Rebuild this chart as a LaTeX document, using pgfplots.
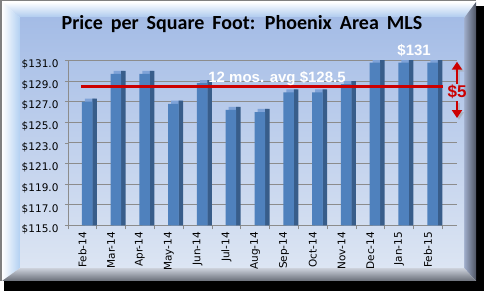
\documentclass[border=0pt]{standalone}
\usepackage{pgfplots}
\pgfplotsset{compat=1.18}
\usepackage{pgfplotstable}
\usepackage{fontspec}
\setmainfont{DejaVu Sans}
\newfontfamily\carlito{Carlito}
\newfontfamily\libsans{Liberation Sans}
\usetikzlibrary{arrows.meta}
\definecolor{barfront}{HTML}{4F81BD}
\definecolor{barside}{HTML}{385D8A}
\definecolor{bartop}{HTML}{7FA3D8}
\definecolor{avgred}{HTML}{CC0000}
\definecolor{gridgray}{HTML}{8C8C8C}
\pgfplotstableread{
x v
0 127.0
1 129.7
2 129.7
3 126.8
4 128.8
5 126.2
6 126.0
7 127.9
8 127.9
9 128.7
10 130.8
11 130.8
12 130.8
}\pricedata
\begin{document}
\begin{tikzpicture}[x=1pt,y=1pt]
\useasboundingbox (0,0) rectangle (484,291);
% black drop shadow
\fill[black] (4,0) rectangle (484,285);
% outer frame
\fill[white] (0,10) rectangle (476,291);
\draw[gray,line width=1.5pt] (0.75,10)--(0.75,290.25)--(476,290.25);
% bevels
\shade[top color=white,bottom color={rgb,255:red,170;green,200;blue,238}] (2,289)--(476,289)--(464,273)--(20,273)--cycle;
\shade[left color=white,right color={rgb,255:red,178;green,208;blue,242}] (2,289)--(20,273)--(20,23)--(2,10)--cycle;
\shade[left color={rgb,255:red,160;green,174;blue,204},right color={rgb,255:red,80;green,86;blue,100}] (476,289)--(476,10)--(464,23)--(464,273)--cycle;
\shade[top color={rgb,255:red,205;green,210;blue,220},bottom color={rgb,255:red,105;green,110;blue,120}] (2,10)--(476,10)--(464,23)--(20,23)--cycle;
% inner panel
\shade[top color={rgb,255:red,164;green,188;blue,230},bottom color={rgb,255:red,220;green,229;blue,243}] (20,23) rectangle (464,273);
% title
\node[font=\carlito\bfseries\fontsize{20}{24}\selectfont] at (242,267) {\spaceskip=8pt Price per Square Foot: Phoenix Area MLS};
\begin{axis}[
  at={(68pt,65.5pt)}, anchor=south west, scale only axis,
  width=389pt, height=165pt,
  xmin=-0.66, xmax=12.85, ymin=115, ymax=131,
  clip mode=individual,
  axis x line*=bottom, axis y line*=left,
  axis line style={gridgray, line width=0.8pt},
  every tick/.style={gridgray, line width=0.8pt},
  tick align=outside,
  ytick={115,117,...,131},
  yticklabel={\$\pgfmathprintnumber[fixed,fixed zerofill,precision=1]{\tick}},
  /pgf/number format/assume math mode=true,
  tick label style={font=\fontsize{10.5}{12}\selectfont, black},
  yticklabel style={xshift=-3pt, yshift=-4pt},
  major tick length=3pt,
  ymajorgrids, major grid style={gridgray, line width=1pt},
  xtick={-0.16,0.84,...,11.84},
  x tick style={draw=none},
  xticklabels={Feb-14,Mar-14,Apr-14,May-14,Jun-14,Jul-14,Aug-14,Sep-14,Oct-14,Nov-14,Dec-14,Jan-15,Feb-15},
  x tick label style={rotate=90, anchor=east},
  extra x ticks={-0.66,0.34,1.34,2.34,3.34,4.34,5.34,6.34,7.34,8.34,9.34,10.34,11.34,12.34},
  extra x tick labels={},
  extra x tick style={x tick style={draw=gridgray}, major tick length=4pt, grid=none},
]
\addplot[ybar, bar width=10.5pt, bar shift=3pt, fill=bartop, draw=none] table[x=x, y expr=\thisrow{v}+0.3] {\pricedata};
\addplot[ybar, bar width=4.5pt, bar shift=7.5pt, fill=barside, draw=none] table[x=x, y expr=\thisrow{v}+0.3] {\pricedata};
\addplot[ybar, bar width=10.5pt, bar shift=0pt, fill=barfront, draw=none] table[x=x, y=v] {\pricedata};
\addplot[avgred, line width=3pt] coordinates {(-0.21,128.5) (12.37,128.5)};
\node[white, font=\libsans\bfseries\fontsize{15}{17}\selectfont] at (axis cs:6.6,129.3) {12 mos. avg \$128.5};
\node[white, font=\libsans\bfseries\fontsize{15}{17}\selectfont] at (axis cs:11.36,132.0) {\$131};
% shadows
\draw[black!35, opacity=0.5, line width=2.5pt, -{Triangle[width=10pt,length=8pt]}] ([shift={(2pt,-2pt)}]axis cs:12.85,128.72) -- ([shift={(2pt,-2pt)}]axis cs:12.85,130.88);
\draw[black!35, opacity=0.5, line width=2.5pt, -{Triangle[width=10pt,length=8pt]}] ([shift={(2pt,-2pt)}]axis cs:12.85,127.07) -- ([shift={(2pt,-2pt)}]axis cs:12.85,125.42);
\draw[avgred, line width=2.5pt, -{Triangle[width=10pt,length=8pt]}] (axis cs:12.85,128.72) -- (axis cs:12.85,130.88);
\draw[avgred, line width=2.5pt, -{Triangle[width=10pt,length=8pt]}] (axis cs:12.85,127.07) -- (axis cs:12.85,125.42);
\node[avgred, font=\libsans\bfseries\fontsize{17}{19}\selectfont] at (axis cs:12.85,127.94) {\$5};
\end{axis}
\end{tikzpicture}
\end{document}
